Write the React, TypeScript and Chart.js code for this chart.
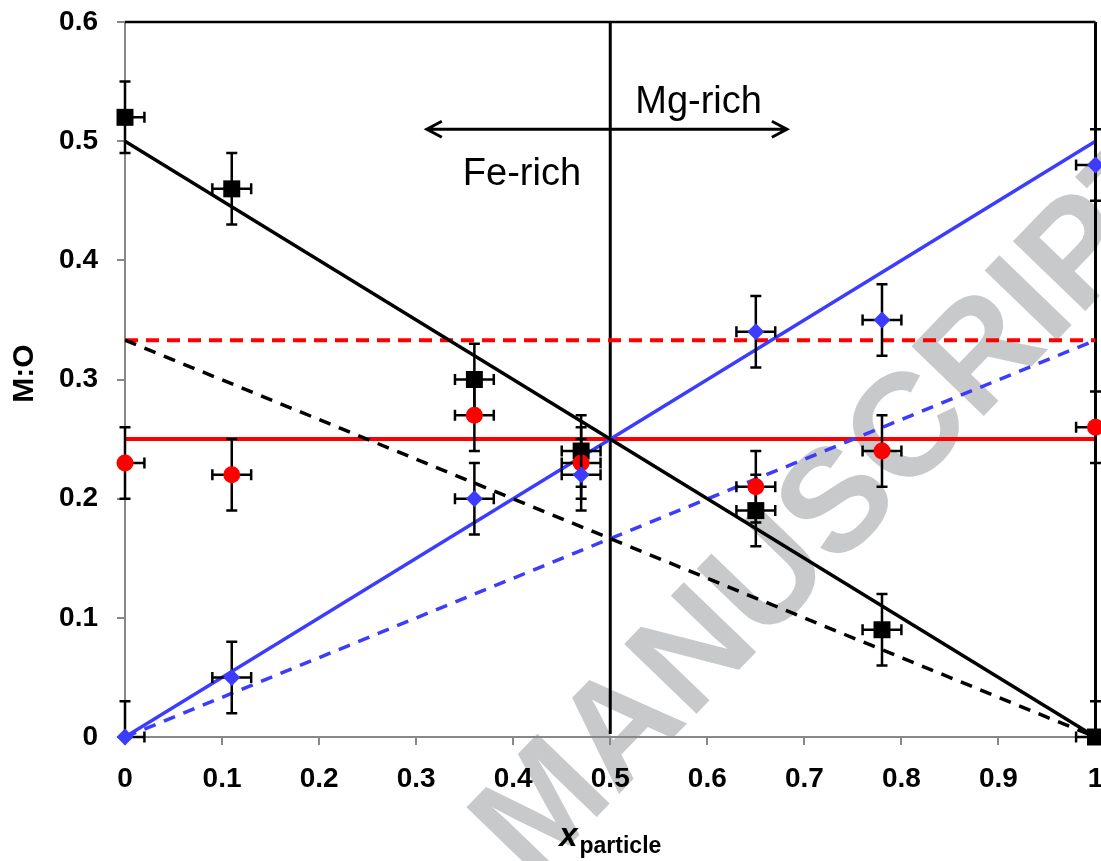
import React, { useEffect, useRef } from 'react';
import { Chart, registerables } from 'chart.js';

Chart.register(...registerables);

// ---- data ----
const X_VALUES = [0, 0.11, 0.36, 0.47, 0.65, 0.78, 1];
const BLACK_SQUARES = [0.52, 0.46, 0.3, 0.24, 0.19, 0.09, 0.0];
const RED_CIRCLES = [0.23, 0.22, 0.27, 0.23, 0.21, 0.24, 0.26];
const BLUE_DIAMONDS = [0.0, 0.05, 0.2, 0.22, 0.34, 0.35, 0.48];
const Y_ERROR = 0.03;
const X_ERROR = 0.02;

const LINE_X = [0, 1];
const BLACK_SOLID = [0.5, 0];
const BLACK_DASHED = [0.333, 0];
const BLUE_SOLID = [0, 0.5];
const BLUE_DASHED = [0, 0.333];
const RED_SOLID = [0.25, 0.25];
const RED_DASHED = [0.333, 0.333];

const X_TICKS = [0, 0.1, 0.2, 0.3, 0.4, 0.5, 0.6, 0.7, 0.8, 0.9, 1];
const X_TICK_LABELS = ['0', '0.1', '0.2', '0.3', '0.4', '0.5', '0.6', '0.7', '0.8', '0.9', '1'];
const Y_TICKS = [0, 0.1, 0.2, 0.3, 0.4, 0.5, 0.6];
const Y_TICK_LABELS = ['0', '0.1', '0.2', '0.3', '0.4', '0.5', '0.6'];
const X_MIN = 0, X_MAX = 1, Y_MIN = 0, Y_MAX = 0.6;

const DIVIDER_X = 0.5;
const ARROW_X = [0.311, 0.682];
const ARROW_Y = 0.51;
const MG_LABEL = { text: 'Mg-rich', x: 0.591, y: 0.5235 };
const FE_LABEL = { text: 'Fe-rich', x: 0.409, y: 0.463 };
const Y_TITLE = 'M:O';
const X_TITLE_MAIN = 'x';
const X_TITLE_SUB = 'particle';
const WATERMARK = 'MANUSCRIPT';

const FONT = "'Liberation Sans', Arial, Helvetica, sans-serif";
const BLUE = '#3c3cff';
const RED = '#ff0000';

const pts = (ys: number[]) => X_VALUES.map((x, i) => ({ x, y: ys[i] }));
const linePts = (ys: number[]) => LINE_X.map((x, i) => ({ x, y: ys[i] }));

const errorBarPlugin = {
  id: 'errorBars',
  beforeDatasetDraw(chart: any, args: any) {
    const ds = chart.data.datasets[args.index];
    if (!ds.errorBars) return;
    const { ctx } = chart;
    const xs = chart.scales.x;
    const ys = chart.scales.y;
    ctx.save();
    ctx.strokeStyle = '#000';
    ctx.lineWidth = 2.5;
    ctx.lineCap = 'butt';
    const cap = 5.5;
    ds.data.forEach((p: any) => {
      const px = xs.getPixelForValue(p.x);
      const py = ys.getPixelForValue(p.y);
      const top = p.y + Y_ERROR;
      const bot = p.y - Y_ERROR;
      const yt = ys.getPixelForValue(Math.min(top, Y_MAX));
      const yb = ys.getPixelForValue(Math.max(bot, Y_MIN));
      ctx.beginPath();
      ctx.moveTo(px, yt);
      ctx.lineTo(px, yb);
      if (top <= Y_MAX) { ctx.moveTo(px - cap, yt); ctx.lineTo(px + cap, yt); }
      if (bot >= Y_MIN) { ctx.moveTo(px - cap, yb); ctx.lineTo(px + cap, yb); }
      const l = p.x - X_ERROR;
      const r = p.x + X_ERROR;
      const xl = xs.getPixelForValue(Math.max(l, X_MIN));
      const xr = xs.getPixelForValue(Math.min(r, X_MAX));
      ctx.moveTo(xl, py);
      ctx.lineTo(xr, py);
      if (l >= X_MIN) { ctx.moveTo(xl, py - cap); ctx.lineTo(xl, py + cap); }
      if (r <= X_MAX) { ctx.moveTo(xr, py - cap); ctx.lineTo(xr, py + cap); }
      ctx.stroke();
    });
    ctx.restore();
  },
};

const decorPlugin = {
  id: 'decor',
  beforeDraw(chart: any) {
    const { ctx, width, height } = chart;
    ctx.save();
    ctx.fillStyle = '#ffffff';
    ctx.fillRect(0, 0, width, height);
    // watermark
    ctx.translate(503, 856);
    ctx.rotate((-46 * Math.PI) / 180);
    ctx.fillStyle = '#c8c9ca';
    ctx.font = `bold 146px ${FONT}`;
    ctx.textAlign = 'left';
    ctx.textBaseline = 'middle';
    ctx.fillText(WATERMARK, 0, 0);
    ctx.restore();
  },
  beforeDatasetsDraw(chart: any) {
    const { ctx, chartArea } = chart;
    const xs = chart.scales.x;
    const ys = chart.scales.y;
    ctx.save();
    // top border
    ctx.strokeStyle = '#000';
    ctx.lineWidth = 2.5;
    ctx.beginPath();
    ctx.moveTo(chartArea.left, chartArea.top);
    ctx.lineTo(chartArea.right, chartArea.top);
    ctx.stroke();
    // right border
    ctx.lineWidth = 3;
    ctx.beginPath();
    ctx.moveTo(chartArea.right, chartArea.top);
    ctx.lineTo(chartArea.right, chartArea.bottom);
    ctx.stroke();
    // divider
    const dx = xs.getPixelForValue(DIVIDER_X);
    ctx.lineWidth = 3;
    ctx.beginPath();
    ctx.moveTo(dx, chartArea.top);
    ctx.lineTo(dx, chartArea.bottom - 3);
    ctx.stroke();
    // arrow
    const ax1 = xs.getPixelForValue(ARROW_X[0]);
    const ax2 = xs.getPixelForValue(ARROW_X[1]);
    const ay = ys.getPixelForValue(ARROW_Y);
    ctx.lineWidth = 3;
    ctx.beginPath();
    ctx.moveTo(ax1, ay);
    ctx.lineTo(ax2, ay);
    ctx.moveTo(ax1 + 15, ay - 8);
    ctx.lineTo(ax1, ay);
    ctx.lineTo(ax1 + 15, ay + 8);
    ctx.moveTo(ax2 - 15, ay - 8);
    ctx.lineTo(ax2, ay);
    ctx.lineTo(ax2 - 15, ay + 8);
    ctx.stroke();
    // labels
    ctx.fillStyle = '#000';
    ctx.font = `38px ${FONT}`;
    ctx.textAlign = 'center';
    ctx.textBaseline = 'alphabetic';
    ctx.fillText(MG_LABEL.text, xs.getPixelForValue(MG_LABEL.x), ys.getPixelForValue(MG_LABEL.y));
    ctx.fillText(FE_LABEL.text, xs.getPixelForValue(FE_LABEL.x), ys.getPixelForValue(FE_LABEL.y));
    ctx.restore();
  },
  afterDraw(chart: any) {
    const { ctx, chartArea } = chart;
    ctx.save();
    ctx.fillStyle = '#000';
    // y title
    ctx.save();
    ctx.translate(25, (chartArea.top + chartArea.bottom) / 2 - 6);
    ctx.rotate(-Math.PI / 2);
    ctx.font = `bold 30px ${FONT}`;
    ctx.textAlign = 'center';
    ctx.textBaseline = 'middle';
    ctx.fillText(Y_TITLE, 0, 0);
    ctx.restore();
    // x title
    const mainFont = `italic bold 33px ${FONT}`;
    const subFont = `bold 23px ${FONT}`;
    ctx.font = mainFont;
    const w1 = ctx.measureText(X_TITLE_MAIN).width;
    ctx.font = subFont;
    const w2 = ctx.measureText(X_TITLE_SUB).width;
    const cx = (chartArea.left + chartArea.right) / 2;
    const start = cx - (w1 + w2 + 2) / 2;
    ctx.textAlign = 'left';
    ctx.textBaseline = 'alphabetic';
    ctx.font = mainFont;
    ctx.fillText(X_TITLE_MAIN, start, 846);
    ctx.font = subFont;
    ctx.fillText(X_TITLE_SUB, start + w1 + 2, 853);
    ctx.restore();
  },
};

export default function App() {
  const ref = useRef<HTMLCanvasElement>(null);
  useEffect(() => {
    document.body.style.margin = '0';
    const canvas = ref.current;
    if (!canvas) return;
    const pointCommon = { showLine: false, clip: false as any, errorBars: true, borderWidth: 0 };
    const chart = new Chart(canvas, {
      type: 'scatter',
      data: {
        datasets: [
          { ...pointCommon, label: 'M:O (Mg)', data: pts(BLUE_DIAMONDS), pointStyle: 'rectRot', pointRadius: 8.5, backgroundColor: BLUE, borderColor: BLUE, order: 1 } as any,
          { ...pointCommon, label: 'M:O (total)', data: pts(RED_CIRCLES), pointStyle: 'circle', pointRadius: 8.5, backgroundColor: RED, borderColor: RED, order: 2 } as any,
          { ...pointCommon, label: 'M:O (Fe)', data: pts(BLACK_SQUARES), pointStyle: 'rect', pointRadius: 12, backgroundColor: '#000', borderColor: '#000', order: 3 } as any,
          { type: 'line', label: 'Fe solid', data: linePts(BLACK_SOLID), borderColor: '#000', borderWidth: 3.5, pointRadius: 0, order: 10 } as any,
          { type: 'line', label: 'Fe dashed', data: linePts(BLACK_DASHED), borderColor: '#000', borderWidth: 3.5, borderDash: [12, 9], pointRadius: 0, order: 10 } as any,
          { type: 'line', label: 'Mg solid', data: linePts(BLUE_SOLID), borderColor: BLUE, borderWidth: 3.5, pointRadius: 0, order: 10 } as any,
          { type: 'line', label: 'Mg dashed', data: linePts(BLUE_DASHED), borderColor: BLUE, borderWidth: 3.5, borderDash: [12, 9], pointRadius: 0, order: 10 } as any,
          { type: 'line', label: 'Total solid', data: linePts(RED_SOLID), borderColor: RED, borderWidth: 4, pointRadius: 0, order: 10 } as any,
          { type: 'line', label: 'Total dashed', data: linePts(RED_DASHED), borderColor: RED, borderWidth: 4, borderDash: [13, 8], pointRadius: 0, order: 10 } as any,
        ],
      },
      options: {
        responsive: false,
        animation: false,
        events: [],
        layout: { autoPadding: false, padding: { top: 22, right: 5.5, left: 0, bottom: 0 } },
        plugins: { legend: { display: false }, tooltip: { enabled: false }, title: { display: false } },
        scales: {
          x: {
            type: 'linear',
            min: X_MIN,
            max: X_MAX,
            afterBuildTicks: (s: any) => { s.ticks = X_TICKS.map((v) => ({ value: v })); },
            afterFit: (s: any) => { s.height = 124; s.paddingLeft = 0; s.paddingRight = 0; s.paddingTop = 0; s.paddingBottom = 0; },
            ticks: {
              callback: (_v: any, i: number) => X_TICK_LABELS[i],
              font: { family: FONT, size: 28, weight: 'bold' },
              color: '#000',
              padding: 17,
              maxRotation: 0,
              autoSkip: false,
            },
            grid: { drawOnChartArea: false, drawTicks: true, tickLength: 8, color: '#888', lineWidth: 2 },
            border: { display: true, color: '#888', width: 2 },
          },
          y: {
            type: 'linear',
            min: Y_MIN,
            max: Y_MAX,
            afterBuildTicks: (s: any) => { s.ticks = Y_TICKS.map((v) => ({ value: v })); },
            afterFit: (s: any) => { s.width = 125; s.paddingLeft = 0; s.paddingRight = 0; s.paddingTop = 0; s.paddingBottom = 0; },
            ticks: {
              callback: (_v: any, i: number) => Y_TICK_LABELS[i],
              font: { family: FONT, size: 28, weight: 'bold' },
              color: '#000',
              padding: 19,
              autoSkip: false,
            },
            grid: { drawOnChartArea: false, drawTicks: true, tickLength: 8, color: '#888', lineWidth: 2 },
            border: { display: true, color: '#888', width: 2 },
          },
        },
      } as any,
      plugins: [decorPlugin, errorBarPlugin],
    });
    return () => chart.destroy();
  }, []);
  return (
    <div style={{ width: 1101, height: 861, position: 'relative', overflow: 'hidden' }}>
      <canvas ref={ref} width={1101} height={861} style={{ display: 'block' }} />
    </div>
  );
}
